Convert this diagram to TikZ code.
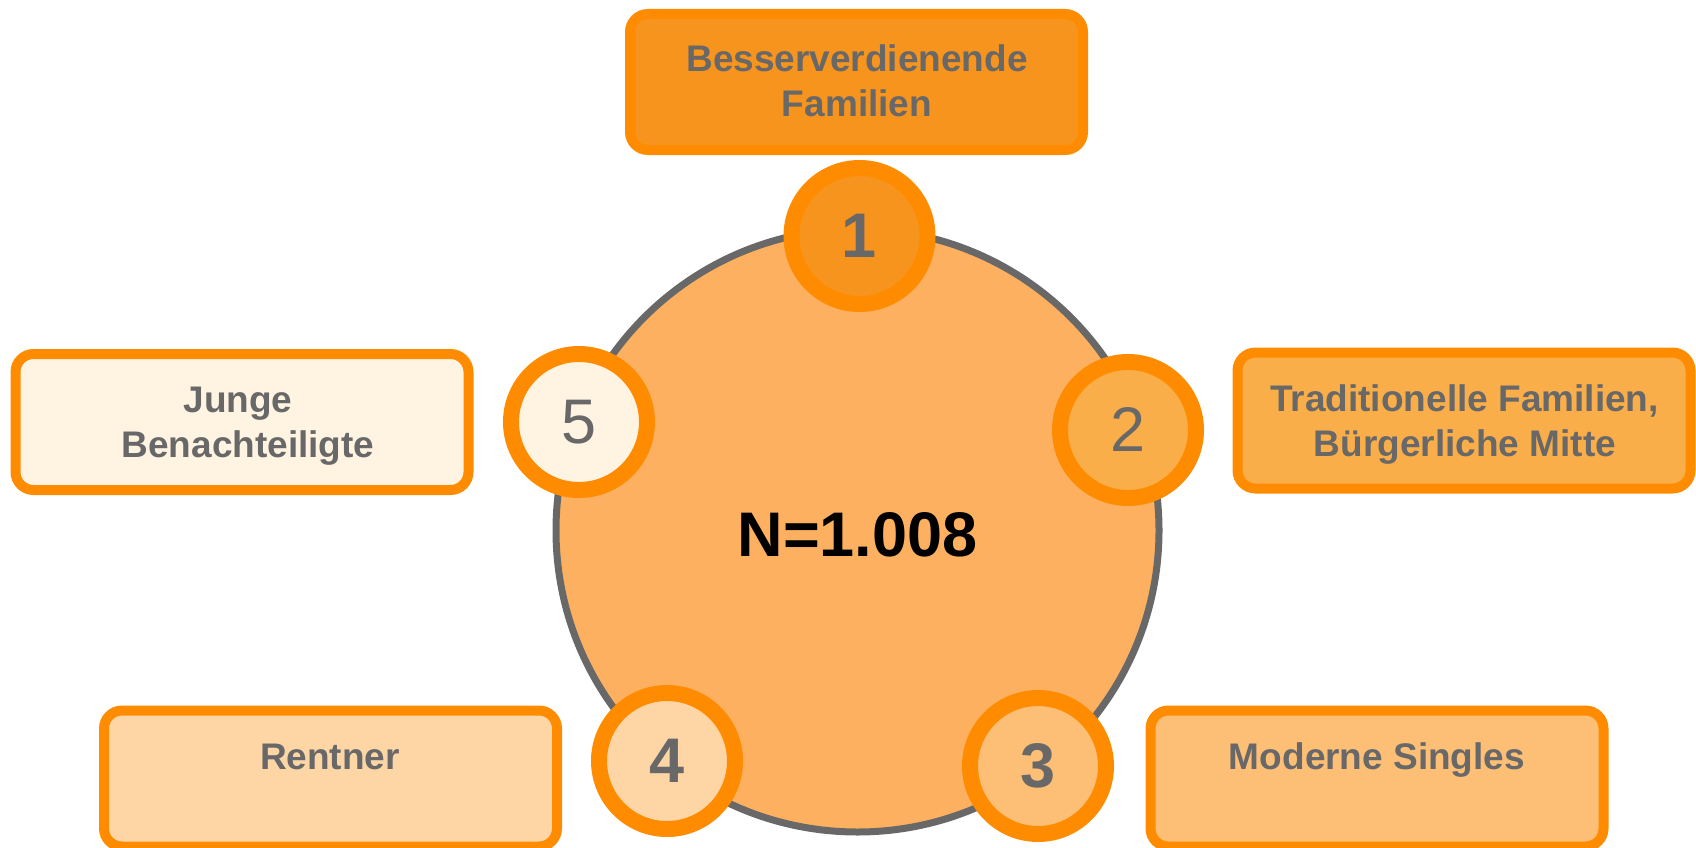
\documentclass[tikz,border=0pt]{standalone}
\usepackage{fontspec}
\setmainfont{Liberation Sans}
\definecolor{ringor}{HTML}{FF8C00}
\definecolor{fillA}{HTML}{F7941E}
\definecolor{fillB}{HTML}{F9AE4A}
\definecolor{fillC}{HTML}{FDBE76}
\definecolor{fillD}{HTML}{FED6A6}
\definecolor{fillE}{HTML}{FFF3E2}
\definecolor{bigfill}{HTML}{FDB060}
\definecolor{txtgray}{HTML}{686868}
\begin{document}
\begin{tikzpicture}[x=1pt,y=-1pt,
  segbox/.style={rectangle, rounded corners=18pt, draw=ringor, line width=10pt,
    minimum width=453pt, minimum height=136pt, inner sep=0pt, outer sep=0pt},
  numc/.style={circle, draw=ringor, line width=16pt, minimum size=136pt,
    inner sep=0pt, outer sep=0pt, text=txtgray},
  boldnum/.style={font=\fontsize{63}{70}\selectfont\bfseries},
  plainnum/.style={font=\fontsize{63}{70}\selectfont},
  lbl/.style={anchor=base, inner sep=0pt, text=txtgray,
    font=\fontsize{37}{45}\selectfont\bfseries}]
\useasboundingbox (0,0) rectangle (1696,848);
\clip (0,0) rectangle (1696,848);

% central circle
\node[circle, fill=bigfill, draw=txtgray, line width=7pt, minimum size=603pt,
  inner sep=0pt] (big) at (857.5,530.5) {};
\node[font=\fontsize{63}{70}\selectfont\bfseries, text=black, inner sep=0pt]
  (ntotal) at (857.5,534.5) {N=1.008};

% boxes
\node[segbox, fill=fillA] (box1) at (856.5,82) {};
\node[segbox, fill=fillB] (box2) at (1464,420.5) {};
\node[segbox, fill=fillC] (box3) at (1377,778.5) {};
\node[segbox, fill=fillD] (box4) at (330.5,778.5) {};
\node[segbox, fill=fillE] (box5) at (242,422) {};

% labels
\node[lbl] (t1a) at (857,72) {Besserverdienende};
\node[lbl] (t1b) at (857,117) {Familien};
\node[lbl] (t2a) at (1464.5,411) {Traditionelle Familien,};
\node[lbl] (t2b) at (1465,456) {Bürgerliche Mitte};
\node[lbl] (t3) at (1377,769) {Moderne Singles};
\node[lbl] (t4) at (330,769) {Rentner};
\node[lbl] (t5a) at (238,412) {Junge};
\node[lbl] (t5b) at (248,457) {Benachteiligte};

% numbered circles
\node[numc, fill=fillA, boldnum] (c1) at (859.5,236) {1};
\node[numc, fill=fillB, plainnum] (c2) at (1128,430) {2};
\node[numc, fill=fillC, boldnum] (c3) at (1038,766) {3};
\node[numc, fill=fillD, boldnum] (c4) at (667,761) {4};
\node[numc, fill=fillE, plainnum] (c5) at (579,422) {5};
\end{tikzpicture}
\end{document}
